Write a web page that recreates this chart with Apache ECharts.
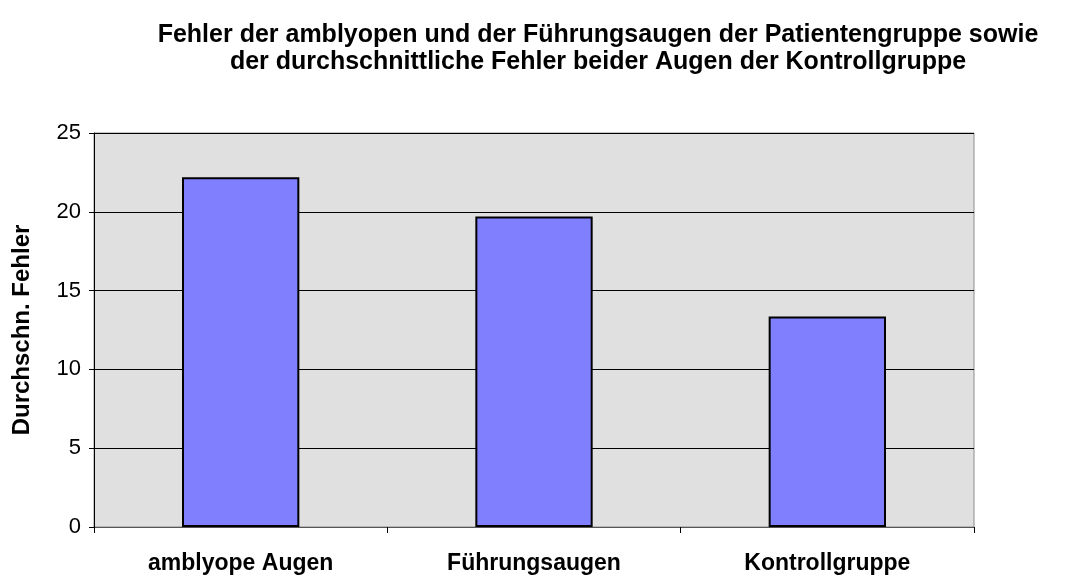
<!DOCTYPE html>
<html>
<head>
<meta charset="utf-8">
<script src="https://cdn.jsdelivr.net/npm/echarts@6/dist/echarts.min.js"></script>
<style>
  html, body { margin: 0; padding: 0; background: #ffffff; }
  #chart { width: 1071px; height: 576px; }
</style>
</head>
<body>
<div id="chart"></div>
<script>
// Mean error per group
const categories = ['amblyope Augen', 'Führungsaugen', 'Kontrollgruppe'];
const meanErrors = [22.2, 19.7, 13.35];
const yTicks = [0, 5, 10, 15, 20, 25];

const chart = echarts.init(document.getElementById('chart'));
const FONT = '"Liberation Sans", Arial, sans-serif';

chart.setOption({
  backgroundColor: '#ffffff',
  animation: false,
  title: {
    text: 'Fehler der amblyopen und der Führungsaugen der Patientengruppe sowie\nder durchschnittliche Fehler beider Augen der Kontrollgruppe',
    left: 593,
    top: 17,
    textAlign: 'center',
    textStyle: {
      fontFamily: FONT,
      fontSize: 25,
      fontWeight: 'bold',
      color: '#000000',
      lineHeight: 27
    }
  },
  grid: {
    left: 94,
    right: 97,
    top: 133,
    bottom: 49,
    show: true,
    backgroundColor: '#e0e0e0',
    borderColor: '#8c8c8c',
    borderWidth: 1
  },
  xAxis: {
    type: 'category',
    data: categories,
    axisLine: { show: true, lineStyle: { color: '#555555', width: 1 } },
    axisTick: { show: true, length: 6, inside: false, lineStyle: { color: '#000000' } },
    axisLabel: {
      fontFamily: FONT,
      fontSize: 23,
      fontWeight: 'bold',
      color: '#000000',
      margin: 25
    },
    splitLine: { show: false }
  },
  yAxis: {
    type: 'value',
    min: yTicks[0],
    max: yTicks[yTicks.length - 1],
    interval: 5,
    name: 'Durchschn. Fehler',
    nameLocation: 'middle',
    nameGap: 60,
    nameRotate: 90,
    nameTextStyle: {
      fontFamily: FONT,
      fontSize: 24,
      fontWeight: 'bold',
      color: '#000000'
    },
    axisLine: { show: true, lineStyle: { color: '#000000', width: 1 } },
    axisTick: { show: true, length: 5, inside: false, lineStyle: { color: '#000000' } },
    axisLabel: {
      fontFamily: FONT,
      fontSize: 22,
      color: '#000000',
      margin: 13
    },
    splitLine: { show: true, lineStyle: { color: '#000000', width: 1 } }
  },
  series: [{
    type: 'bar',
    data: meanErrors,
    barWidth: '40%',
    itemStyle: {
      color: '#8080ff',
      borderColor: '#000000',
      borderWidth: 2
    }
  }]
});
</script>
</body>
</html>
